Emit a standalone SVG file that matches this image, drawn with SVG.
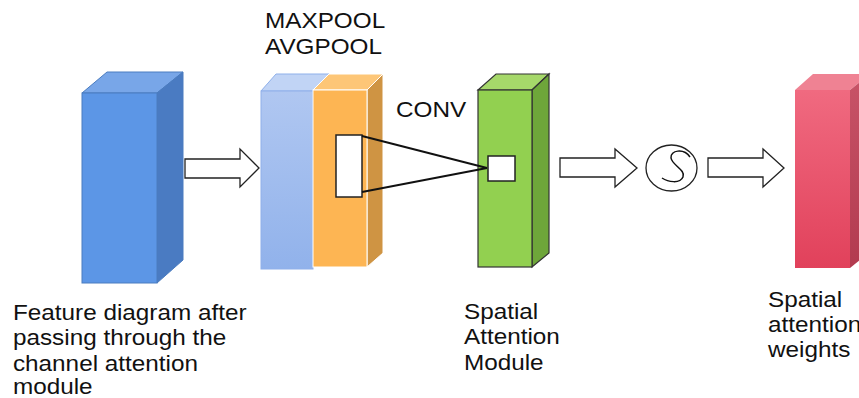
<svg xmlns="http://www.w3.org/2000/svg" width="859" height="398" viewBox="0 0 859 398">
  <defs>
    <linearGradient id="lbFront" x1="0" y1="0" x2="0" y2="1">
      <stop offset="0" stop-color="#B0C7F1"/>
      <stop offset="1" stop-color="#91B2EB"/>
    </linearGradient>
    <linearGradient id="redFront" x1="0" y1="0" x2="0" y2="1">
      <stop offset="0" stop-color="#F06A80"/>
      <stop offset="1" stop-color="#E1415B"/>
    </linearGradient>
    <linearGradient id="redSide" x1="0" y1="0" x2="0" y2="1">
      <stop offset="0" stop-color="#C85468"/>
      <stop offset="1" stop-color="#B23A4F"/>
    </linearGradient>
  </defs>
  <style>
    .lbl { font-family: "Liberation Sans", Arial, sans-serif; font-size: 22.5px; fill: #111; }
    .arrow { fill: #fff; stroke: #222; stroke-width: 1.3; stroke-linejoin: miter; }
    .link { stroke: #111; stroke-width: 2; fill: none; }
    .win { fill: #fff; stroke: #222; stroke-width: 1.5; }
  </style>
  <rect width="859" height="398" fill="#fff"/>

  <!-- input feature map -->
  <g id="feature-map">
    <polygon points="82,93 107,72 183,72 157,93" fill="#78A6E8" stroke="#4A7CC0" stroke-width="1"/>
    <polygon points="157,93 183,72 183,260 157,283" fill="#4A7BC2" stroke="#4A7CC0" stroke-width="1"/>
    <rect x="82" y="93" width="75" height="190" fill="#5C96E6" stroke="#4A7CC0" stroke-width="1"/>
  </g>

  <!-- pooled maps: avg (blue) and max (orange) -->
  <g id="avgpool-map">
    <polygon points="261,91 276,74 329,74 313,91" fill="#C1D4F5" stroke="#8FB0EA" stroke-width="1"/>
    <rect x="261" y="91" width="52" height="178" fill="url(#lbFront)" stroke="#8FB0EA" stroke-width="1"/>
  </g>
  <g id="maxpool-map">
    <polygon points="313,90 329,74 383,74 367,90" fill="#FDC677" stroke="#fff" stroke-width="1"/>
    <polygon points="367,90 383,74 383,253 367,267" fill="#CF9443" stroke="#fff" stroke-width="1"/>
    <rect x="313" y="90" width="54" height="177" fill="#FDB553" stroke="#fff" stroke-width="1"/>
    <rect class="win" x="336" y="135" width="26" height="62"/>
  </g>

  <!-- spatial attention module -->
  <g id="sam">
    <polygon points="478,90 496,74 549,74 532,90" fill="#A6D86A" stroke="#333" stroke-width="1.2"/>
    <polygon points="532,90 549,74 549,253 532,267" fill="#6EA63A" stroke="#333" stroke-width="1.2"/>
    <rect x="478" y="90" width="54" height="177" fill="#92D050" stroke="#333" stroke-width="1.2"/>
    <rect class="win" x="488" y="156" width="27" height="25"/>
  </g>

  <!-- output weights -->
  <g id="weights">
    <polygon points="795,90 813,74 870,74 850,90" fill="#EF8293"/>
    <polygon points="850,90 870,74 870,252 850,268" fill="url(#redSide)"/>
    <rect x="795" y="90" width="55" height="178" fill="url(#redFront)"/>
  </g>

  <!-- sigmoid -->
  <g id="sigmoid">
    <ellipse cx="671.5" cy="168" rx="25.5" ry="23" fill="#fff" stroke="#222" stroke-width="1.3"/>
    <path d="M690,157 C684,148 670,150 671,158 C672,165 686,170 683,177 C680,184 668,182 662,178" fill="none" stroke="#111" stroke-width="1.5"/>
  </g>

  <!-- connectors -->
  <g id="connectors">
    <polygon class="arrow" points="185,159 240,159 240,149 259,168 240,187 240,178 185,178"/>
    <polygon class="arrow" points="560,158 615,158 615,149 637,168 615,187 615,177 560,177"/>
    <polygon class="arrow" points="708,158 763,158 763,149 784,168 763,187 763,177 708,177"/>
    <line class="link" x1="362" y1="136" x2="487" y2="168"/>
    <line class="link" x1="362" y1="192" x2="487" y2="168"/>
  </g>

  <!-- labels (drawn slightly wide: x scaled by 1.08) -->
  <g id="labels" transform="scale(1.08,1)">
    <text class="lbl" x="245.4" y="28">MAXPOOL</text>
    <text class="lbl" x="245.4" y="54">AVGPOOL</text>
    <text class="lbl" x="366.7" y="117">CONV</text>
    <text class="lbl" x="12" y="320">Feature diagram after</text>
    <text class="lbl" x="12" y="345.5">passing through the</text>
    <text class="lbl" x="12" y="371">channel attention</text>
    <text class="lbl" x="12" y="394.5">module</text>
    <text class="lbl" x="429.6" y="319">Spatial</text>
    <text class="lbl" x="429.6" y="344.5">Attention</text>
    <text class="lbl" x="429.6" y="370">Module</text>
    <text class="lbl" x="711.1" y="307">Spatial</text>
    <text class="lbl" x="711.1" y="332">attention</text>
    <text class="lbl" x="711.1" y="357">weights</text>
  </g>
</svg>
